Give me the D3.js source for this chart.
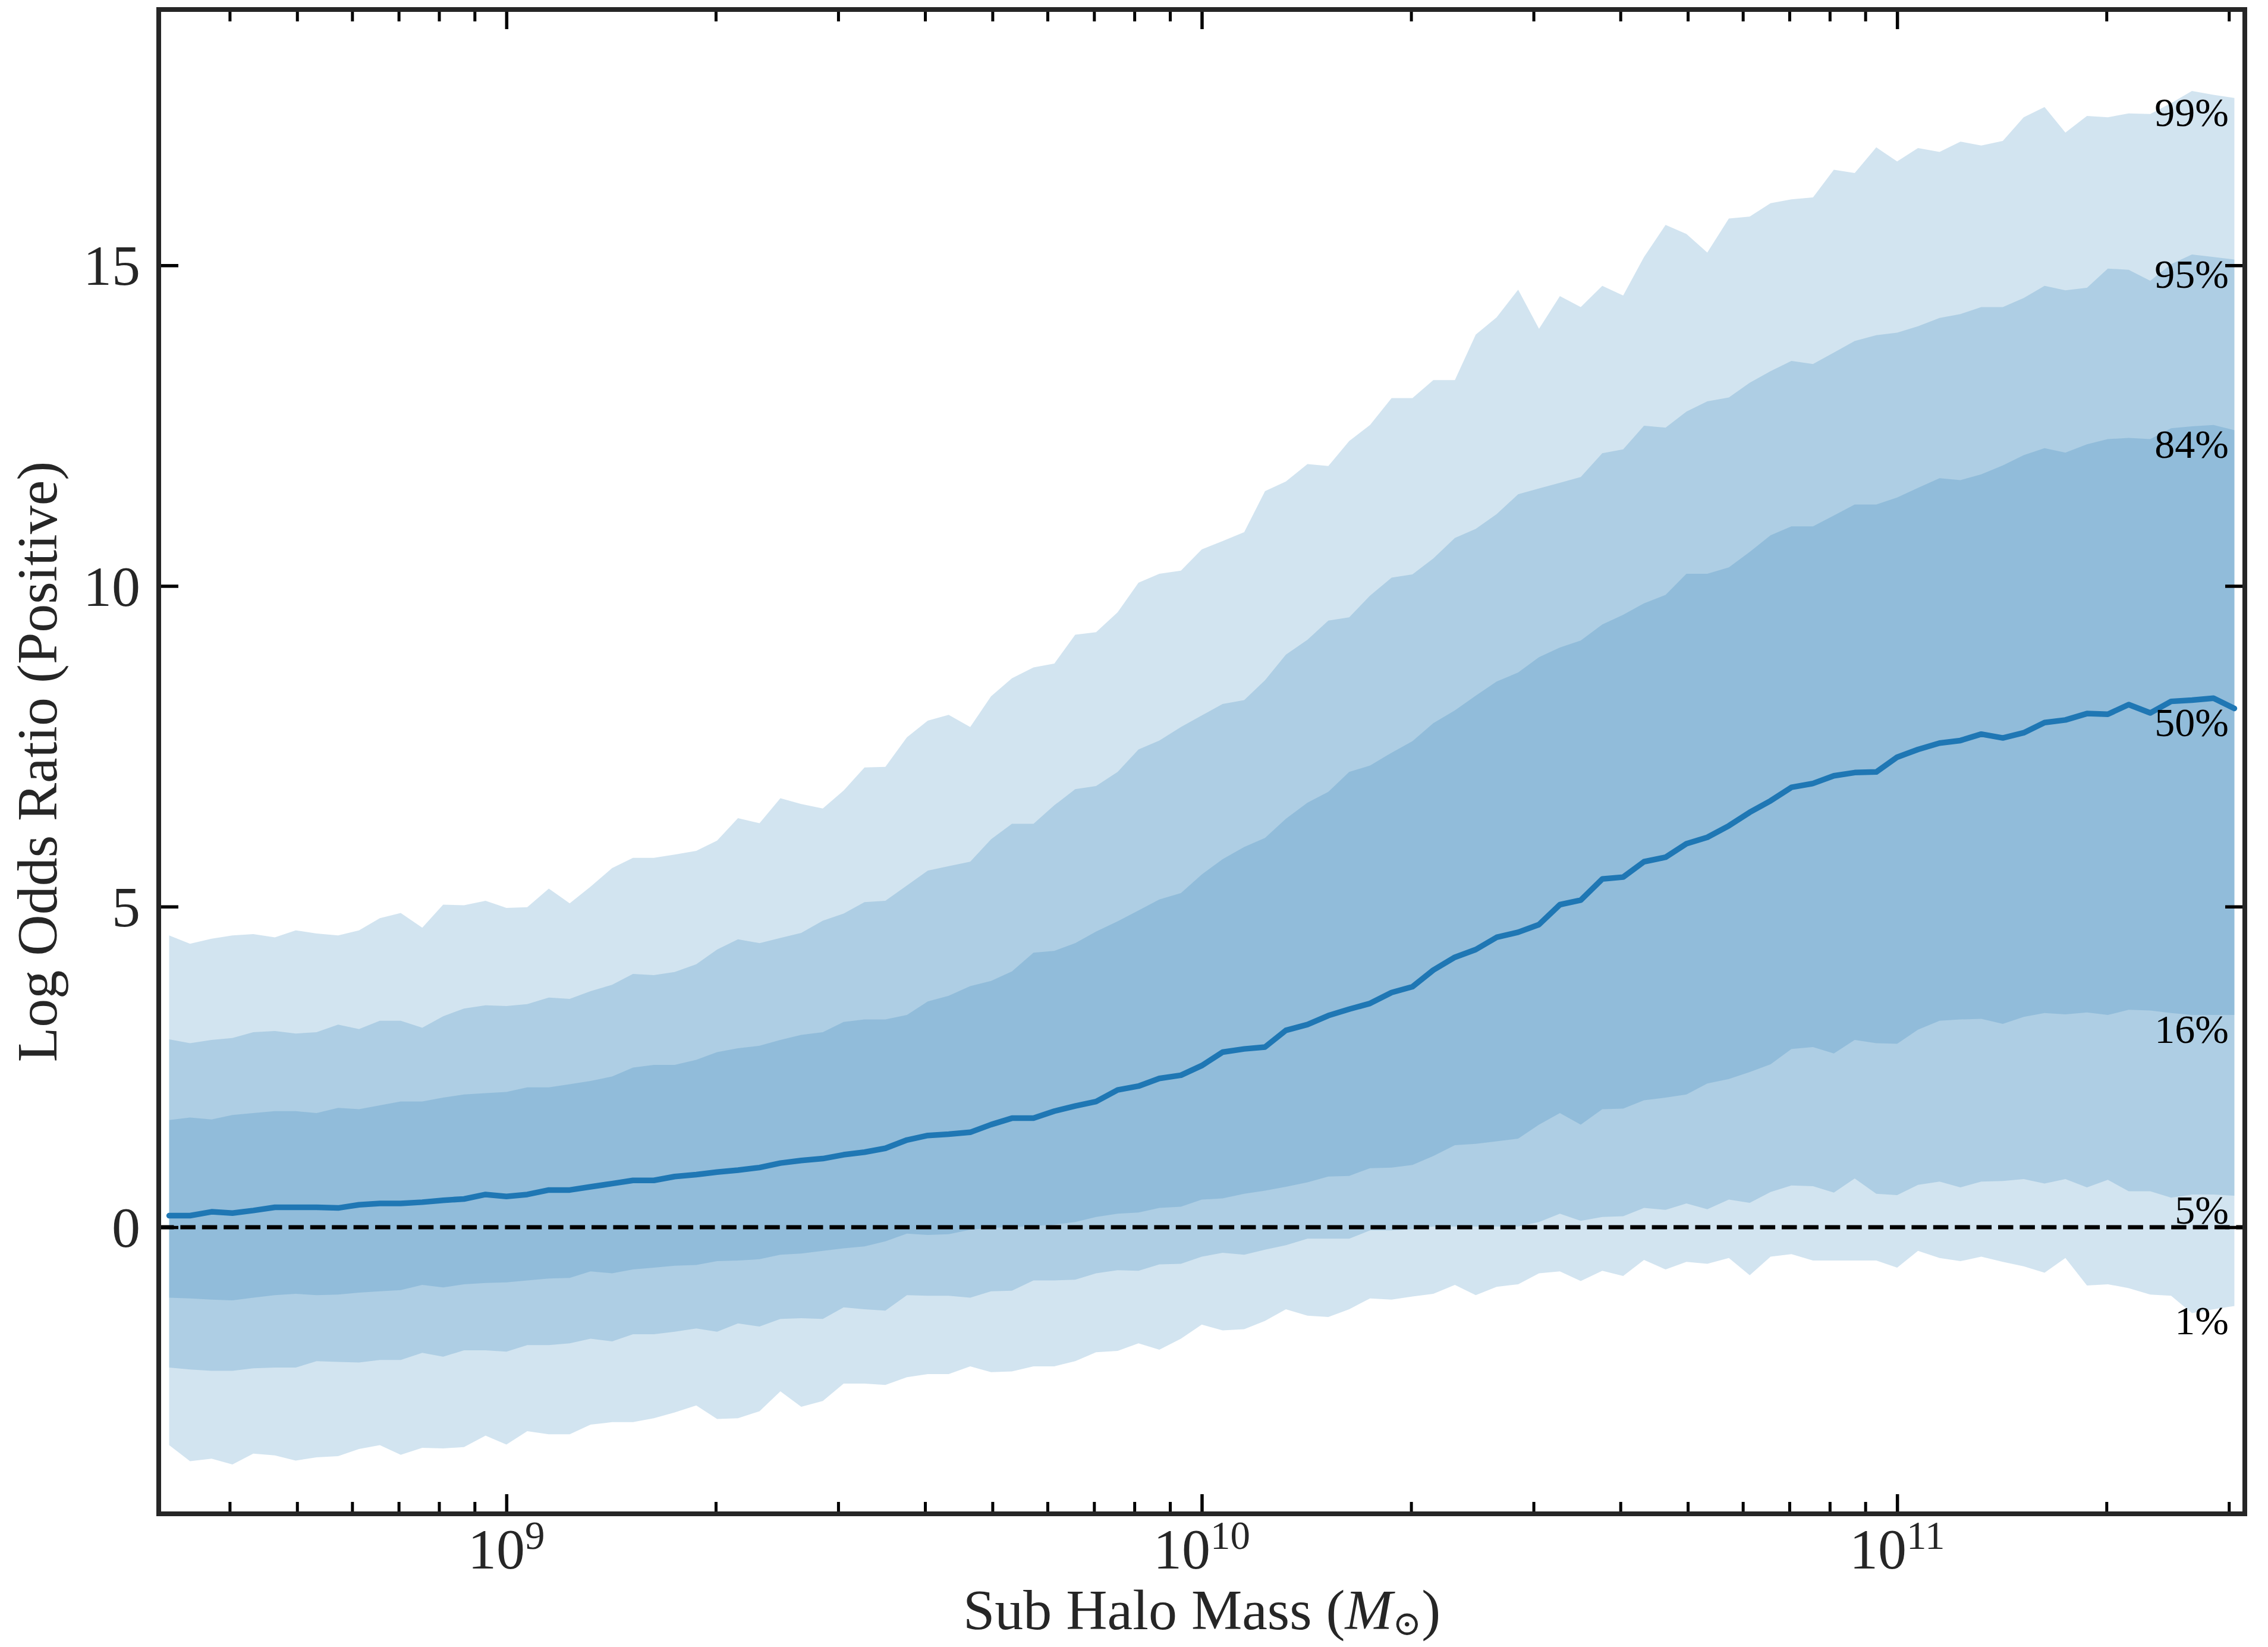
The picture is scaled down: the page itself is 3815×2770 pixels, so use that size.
<!DOCTYPE html>
<html><head><meta charset="utf-8">
<script src="https://cdn.jsdelivr.net/npm/d3@7"></script>
<style>body{margin:0;background:#fff}svg{display:block}</style>
</head><body>
<svg id="chart" width="3815" height="2770"></svg>
<script>
// log10 of sub halo mass (bin centres)
const logMass = [
 8.515,8.545,8.576,8.606,8.636,8.667,8.697,8.727,8.758,8.788,8.818,8.848,8.879,8.909,8.939,8.970,9.000,9.030,9.061,9.091,9.121,9.152,9.182,9.212,9.242,9.273,9.303,9.333,9.364,9.394,9.424,9.455,9.485,
 9.515,9.545,9.576,9.606,9.636,9.667,9.697,9.727,9.758,9.788,9.818,9.848,9.879,9.909,9.939,9.970,10.000,10.030,10.061,10.091,10.121,10.152,10.182,10.212,10.242,10.273,10.303,10.333,10.364,10.394,10.424,10.455,10.485,
 10.515,10.545,10.576,10.606,10.636,10.667,10.697,10.727,10.758,10.788,10.818,10.848,10.879,10.909,10.939,10.970,11.000,11.030,11.061,11.091,11.121,11.152,11.182,11.212,11.242,11.273,11.303,11.333,11.364,11.394,11.424,11.455,11.485
];
const p99 = [
 4.55,4.42,4.50,4.55,4.57,4.52,4.63,4.58,4.55,4.63,4.82,4.90,4.67,5.03,5.02,5.09,4.98,
 4.99,5.28,5.05,5.31,5.60,5.76,5.76,5.81,5.87,6.03,6.38,6.30,6.69,6.60,6.53,6.81,7.17,
 7.18,7.64,7.90,7.99,7.80,8.28,8.56,8.73,8.79,9.24,9.28,9.59,10.05,10.19,10.24,10.57,
 10.70,10.84,11.48,11.63,11.90,11.87,12.26,12.51,12.93,12.93,13.21,13.21,13.92,14.19,14.62,14.01,14.52,
 14.35,14.68,14.53,15.13,15.63,15.49,15.20,15.73,15.76,15.97,16.03,16.06,16.49,16.44,16.84,16.62,
 16.83,16.77,16.93,16.87,16.94,17.31,17.47,17.07,17.33,17.31,17.37,17.36,17.53,17.72,17.66,17.61
];
const p95 = [
 2.93,2.87,2.92,2.95,3.04,3.06,3.02,3.04,3.16,3.09,3.22,3.22,3.11,3.29,3.41,3.46,3.45,
 3.48,3.58,3.56,3.68,3.78,3.95,3.93,3.98,4.10,4.33,4.49,4.43,4.51,4.59,4.78,4.89,5.07,
 5.09,5.33,5.56,5.63,5.70,6.05,6.29,6.29,6.58,6.83,6.88,7.10,7.45,7.59,7.80,7.98,
 8.16,8.22,8.53,8.93,9.16,9.46,9.51,9.85,10.13,10.18,10.43,10.75,10.89,11.12,11.43,11.52,11.61,
 11.70,12.07,12.13,12.50,12.47,12.72,12.88,12.94,13.17,13.35,13.51,13.46,13.64,13.82,13.91,13.95,
 14.05,14.18,14.24,14.35,14.35,14.49,14.68,14.61,14.65,14.95,14.93,14.76,15.02,15.17,15.13,15.09
];
const p84 = [
 1.67,1.71,1.68,1.75,1.78,1.81,1.81,1.78,1.86,1.84,1.90,1.96,1.96,2.02,2.07,2.09,2.11,
 2.18,2.18,2.23,2.28,2.35,2.49,2.53,2.53,2.61,2.73,2.79,2.83,2.92,3.00,3.04,3.20,3.24,
 3.24,3.31,3.52,3.61,3.76,3.84,3.99,4.28,4.31,4.43,4.61,4.77,4.94,5.11,5.21,5.50,
 5.74,5.93,6.07,6.37,6.62,6.79,7.10,7.20,7.40,7.58,7.86,8.06,8.29,8.51,8.65,8.89,9.04,
 9.15,9.40,9.55,9.73,9.86,10.19,10.19,10.29,10.53,10.79,10.93,10.93,11.10,11.27,11.27,11.38,
 11.53,11.68,11.65,11.74,11.88,12.04,12.15,12.08,12.21,12.29,12.31,12.29,12.46,12.49,12.51,12.43
];
const p50 = [
 0.18,0.18,0.24,0.22,0.26,0.31,0.31,0.31,0.30,0.35,0.37,0.37,0.39,0.42,0.44,0.51,0.48,
 0.51,0.58,0.58,0.63,0.68,0.73,0.73,0.79,0.82,0.86,0.89,0.93,1.00,1.04,1.07,1.13,1.17,
 1.23,1.36,1.43,1.45,1.48,1.60,1.70,1.70,1.81,1.89,1.96,2.14,2.20,2.32,2.37,2.52,
 2.73,2.78,2.81,3.07,3.16,3.30,3.40,3.49,3.66,3.75,4.01,4.21,4.33,4.52,4.60,4.72,5.03,
 5.10,5.43,5.46,5.70,5.77,5.98,6.08,6.26,6.47,6.65,6.86,6.92,7.04,7.09,7.10,7.33,
 7.45,7.55,7.59,7.69,7.63,7.71,7.87,7.91,8.01,8.00,8.15,8.02,8.20,8.22,8.25,8.09
];
const p16 = [
 -1.10,-1.11,-1.13,-1.14,-1.10,-1.06,-1.04,-1.06,-1.05,-1.02,-1.00,-0.98,-0.90,-0.94,-0.89,-0.87,-0.86,
 -0.83,-0.80,-0.79,-0.69,-0.72,-0.66,-0.63,-0.60,-0.59,-0.53,-0.52,-0.50,-0.43,-0.41,-0.37,-0.33,-0.30,
 -0.22,-0.10,-0.12,-0.11,-0.04,-0.01,0.00,0.02,0.04,0.08,0.16,0.21,0.23,0.30,0.32,0.43,
 0.45,0.52,0.57,0.63,0.70,0.79,0.80,0.92,0.93,0.97,1.11,1.28,1.30,1.34,1.38,1.60,1.78,
 1.60,1.84,1.85,1.98,2.02,2.07,2.24,2.31,2.42,2.54,2.78,2.81,2.71,2.92,2.87,2.86,
 3.08,3.22,3.24,3.25,3.17,3.28,3.34,3.32,3.35,3.31,3.39,3.38,3.34,3.31,3.31,3.31
];
const p05 = [
 -2.19,-2.22,-2.24,-2.24,-2.20,-2.19,-2.19,-2.09,-2.10,-2.11,-2.07,-2.07,-1.96,-2.02,-1.92,-1.92,-1.94,
 -1.84,-1.84,-1.81,-1.74,-1.78,-1.67,-1.67,-1.63,-1.58,-1.63,-1.50,-1.55,-1.43,-1.42,-1.43,-1.25,-1.28,
 -1.30,-1.06,-1.07,-1.07,-1.10,-1.00,-0.99,-0.83,-0.83,-0.82,-0.72,-0.67,-0.68,-0.58,-0.57,-0.46,
 -0.40,-0.43,-0.35,-0.28,-0.18,-0.18,-0.18,-0.05,-0.05,-0.03,0.01,0.01,0.01,0.01,0.01,0.08,0.21,
 0.10,0.16,0.17,0.30,0.27,0.37,0.28,0.43,0.38,0.55,0.65,0.64,0.54,0.76,0.52,0.50,
 0.66,0.71,0.62,0.71,0.72,0.75,0.68,0.75,0.62,0.74,0.56,0.56,0.46,0.51,0.51,0.49
];
const p01 = [
 -3.40,-3.65,-3.61,-3.70,-3.53,-3.56,-3.64,-3.59,-3.57,-3.46,-3.40,-3.55,-3.44,-3.45,-3.43,-3.25,-3.39,
 -3.18,-3.23,-3.23,-3.08,-3.04,-3.04,-2.98,-2.89,-2.78,-2.99,-2.98,-2.87,-2.56,-2.80,-2.71,-2.44,-2.44,
 -2.46,-2.34,-2.29,-2.29,-2.17,-2.26,-2.25,-2.17,-2.17,-2.09,-1.95,-1.93,-1.81,-1.91,-1.74,-1.52,
 -1.61,-1.59,-1.46,-1.28,-1.38,-1.40,-1.28,-1.11,-1.13,-1.08,-1.04,-0.90,-1.06,-0.93,-0.89,-0.72,-0.69,
 -0.84,-0.68,-0.76,-0.51,-0.66,-0.54,-0.57,-0.48,-0.75,-0.46,-0.42,-0.52,-0.52,-0.52,-0.52,-0.63,
 -0.37,-0.48,-0.53,-0.46,-0.54,-0.61,-0.71,-0.48,-0.91,-0.89,-0.95,-1.05,-1.07,-1.34,-1.28,-1.23
];
const yTicks = [0, 5, 10, 15];
const xMajorTicks = [1e9, 1e10, 1e11];
const xMajorExp = ["9", "10", "11"];
const xMinorTicks = [4e8,5e8,6e8,7e8,8e8,9e8,2e9,3e9,4e9,5e9,6e9,7e9,8e9,9e9,2e10,3e10,4e10,5e10,6e10,7e10,8e10,9e10,2e11,3e11];
const pctLabels = ["99%","95%","84%","50%","16%","5%","1%"];
const xLabel = "Sub Halo Mass (";
const yLabel = "Log Odds Ratio (Positive)";

const W = 3815, H = 2770;
const L = 267, R = 3776, T = 16, B = 2546;
const FONT = "'Liberation Serif','Times New Roman',Times,serif";
const C0 = "#1f77b4";

const x = d3.scaleLog().domain([Math.pow(10, 8.5), Math.pow(10, 11.5)]).range([L, R]);
const y = d3.scaleLinear().domain([-4.47, 18.99]).range([B, T]);
const mass = logMass.map(v => Math.pow(10, v));

const svg = d3.select("#chart");
svg.append("rect").attr("width", W).attr("height", H).attr("fill", "#fff");

svg.append("clipPath").attr("id", "plotclip").append("rect")
  .attr("x", L).attr("y", T).attr("width", R - L).attr("height", B - T);
const plot = svg.append("g").attr("clip-path", "url(#plotclip)");

// percentile bands (three overlapping alpha layers)
[[p01, p99], [p05, p95], [p16, p84]].forEach(([lo, hi]) => {
  const area = d3.area()
    .x((d, i) => x(mass[i]))
    .y0((d, i) => y(lo[i]))
    .y1((d, i) => y(hi[i]));
  plot.append("path").datum(lo).attr("d", area)
    .attr("fill", C0).attr("fill-opacity", 0.2).attr("stroke", "none");
});

// zero reference line
plot.append("line")
  .attr("x1", L).attr("x2", R).attr("y1", y(0)).attr("y2", y(0))
  .attr("stroke", "#000").attr("stroke-width", 6.9)
  .attr("stroke-dasharray", "25.5 10.9");

// median line
plot.append("path").datum(p50)
  .attr("d", d3.line().x((d, i) => x(mass[i])).y(d => y(d)))
  .attr("fill", "none").attr("stroke", C0).attr("stroke-width", 9.5)
  .attr("stroke-linejoin", "round").attr("stroke-linecap", "round");

// percentile labels
const series = [p99, p95, p84, p50, p16, p05, p01];
svg.append("g").selectAll("text").data(pctLabels).join("text")
  .attr("x", 3749)
  .attr("y", (d, i) => y(series[i][series[i].length - 1]) + 47)
  .attr("text-anchor", "end")
  .attr("font-family", FONT).attr("font-size", 68).attr("fill", "#000")
  .text(d => d);

// axes (ticks pointing inward on all four sides)
function styleAxis(g, w) {
  g.select(".domain").remove();
  g.selectAll("line").attr("stroke", "#000").attr("stroke-width", w);
  g.selectAll("text").remove();
}
svg.append("g").attr("transform", `translate(0,${B})`)
  .call(d3.axisBottom(x).tickValues(xMajorTicks).tickSize(-33).tickFormat(""))
  .call(g => styleAxis(g, 5.5));
svg.append("g").attr("transform", `translate(0,${B})`)
  .call(d3.axisBottom(x).tickValues(xMinorTicks).tickSize(-20).tickFormat(""))
  .call(g => styleAxis(g, 5));
svg.append("g").attr("transform", `translate(0,${T})`)
  .call(d3.axisTop(x).tickValues(xMajorTicks).tickSize(-33).tickFormat(""))
  .call(g => styleAxis(g, 5.5));
svg.append("g").attr("transform", `translate(0,${T})`)
  .call(d3.axisTop(x).tickValues(xMinorTicks).tickSize(-20).tickFormat(""))
  .call(g => styleAxis(g, 5));
svg.append("g").attr("transform", `translate(${L},0)`)
  .call(d3.axisLeft(y).tickValues(yTicks).tickSize(-33).tickFormat(""))
  .call(g => styleAxis(g, 5.5));
svg.append("g").attr("transform", `translate(${R},0)`)
  .call(d3.axisRight(y).tickValues(yTicks).tickSize(-33).tickFormat(""))
  .call(g => styleAxis(g, 5.5));

// frame
svg.append("rect").attr("x", L).attr("y", T).attr("width", R - L).attr("height", B - T)
  .attr("fill", "none").attr("stroke", "#262626").attr("stroke-width", 8);

// y tick labels
svg.append("g").selectAll("text").data(yTicks).join("text")
  .attr("x", 236).attr("y", d => y(d) + 33)
  .attr("text-anchor", "end")
  .attr("font-family", FONT).attr("font-size", 96).attr("fill", "#262626")
  .text(d => d);

// x tick labels (10^n)
const xl = svg.append("g").selectAll("text").data(xMajorTicks).join("text")
  .attr("x", d => x(d)).attr("y", 2638)
  .attr("text-anchor", "middle")
  .attr("font-family", FONT).attr("font-size", 96).attr("fill", "#262626");
xl.append("tspan").text("10");
xl.append("tspan").attr("dy", -33).attr("font-size", 67).text((d, i) => xMajorExp[i]);

// x axis label
const xt = svg.append("text")
  .attr("x", (L + R) / 2).attr("y", 2740)
  .attr("text-anchor", "middle")
  .attr("font-family", FONT).attr("font-size", 96).attr("fill", "#262626");
xt.append("tspan").text(xLabel);
xt.append("tspan").attr("font-style", "italic").text("M");
xt.append("tspan").attr("dy", 10).attr("font-size", 58).attr("font-family", "'DejaVu Serif',serif").text("\u2299");
xt.append("tspan").attr("dy", -10).text(")");

// y axis label
svg.append("text")
  .attr("transform", `translate(95,${(T + B) / 2}) rotate(-90)`)
  .attr("text-anchor", "middle")
  .attr("font-family", FONT).attr("font-size", 96).attr("fill", "#262626")
  .text(yLabel);
</script>
</body></html>
